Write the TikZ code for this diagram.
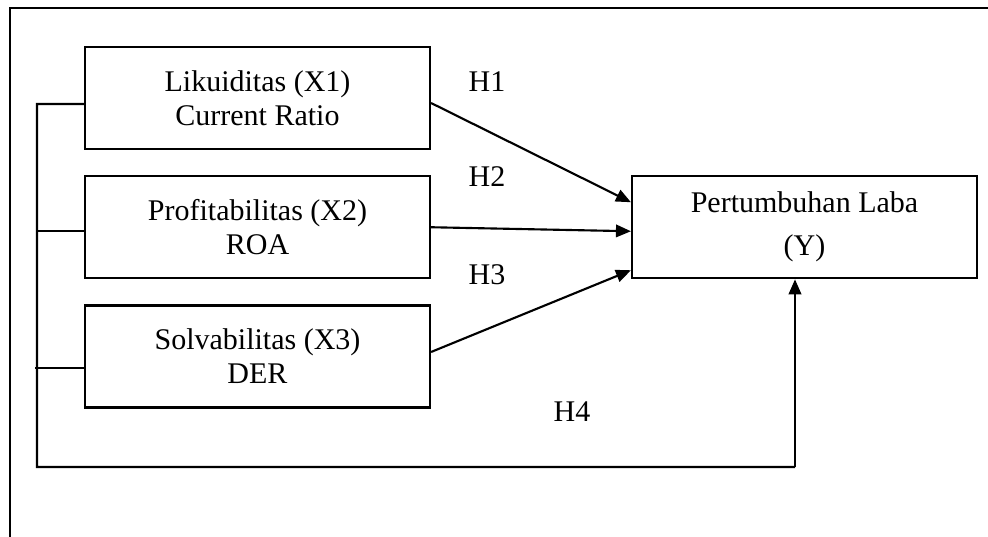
\documentclass[tikz,border=0pt]{standalone}
\usepackage{fontspec}
\setmainfont{Liberation Serif}
\usepackage{tikz}
\usetikzlibrary{positioning, arrows.meta}
\tikzset{
    on grid,
    node distance=51.7pt,
    every picture/.style={line width=0.85pt},
    var/.style={draw, minimum width=138pt, minimum height=40.8pt,
        align=center, font=\fontsize{12}{13.6}\selectfont},
    hyp/.style={font=\fontsize{12}{14}\selectfont},
    arr/.style={-{Triangle[length=6pt,width=5pt]}},
}

\begin{document}
\begin{tikzpicture}[x=0.4pt, y=-0.4pt]
    \useasboundingbox (0,0) rectangle (988,537);
    % frame
    \draw (988,8) -- (10,8) -- (10,537);

        \node[var] (x1) at (257.5,98) {Likuiditas (X1)\\Current Ratio};
        \node[var, below=of x1] (x2) {Profitabilitas (X2)\\ROA};
        \node[var, below=of x2] (x3) {Solvabilitas (X3)\\DER};
        \node[var, right=218.8pt of x2] (y) {Pertumbuhan Laba\\[3.6pt](Y)};

        \node[hyp] (h1) at (487,82) {H1};
        \node[hyp] (h2) at (487,177) {H2};
        \node[hyp] (h3) at (487,275) {H3};
        \node[hyp] (h4) at (572,412) {H4};

        \coordinate (bt) at (37,104);
        \coordinate (bb) at (37,467);
        \coordinate (bc) at (795,467);
        \path ([yshift=-1.6pt]x2.west) coordinate (t2)
              ([yshift=-4.6pt]x3.west) coordinate (t3);

    \path[arr]
        ([yshift=-2pt]x1.east) edge ([yshift=10pt]y.west)
        (x2.east) edge ([yshift=-1.6pt]y.west)
        ([yshift=1.8pt]x3.east) edge ([yshift=-17.2pt]y.west);

    % simultan
    \draw ([yshift=-2.4pt]x1.west) -- (bt) -- (bb) -- (bc);
    \draw (t2) -- (t2 -| bt);
    \draw (t3) -- ([xshift=-0.8pt]t3 -| bt);
    \draw[arr] (bc) -- (bc |- y.south);
\end{tikzpicture}
\end{document}
